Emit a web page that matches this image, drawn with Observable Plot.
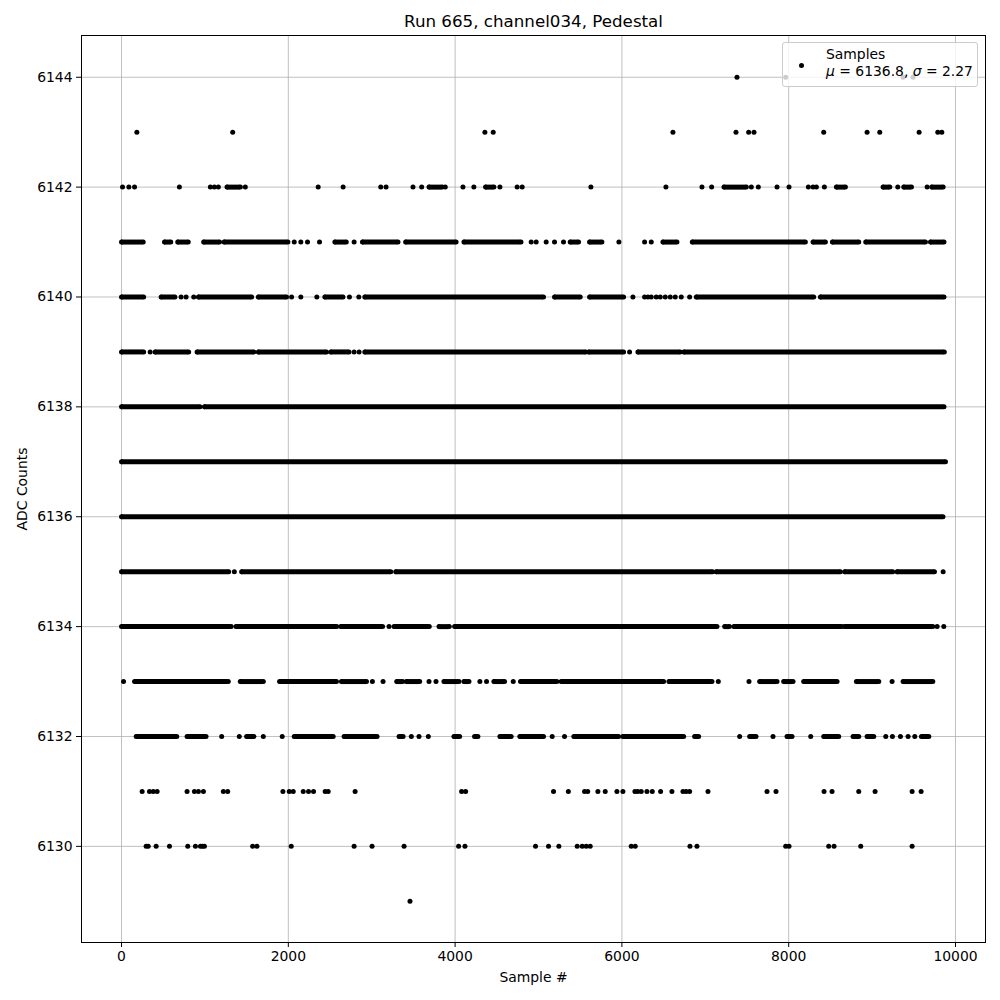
<!DOCTYPE html>
<html>
<head>
<meta charset="utf-8">
<script src="https://cdn.jsdelivr.net/npm/d3@7"></script>
<script src="https://cdn.jsdelivr.net/npm/@observablehq/plot@0.6"></script>
<style>
  body { margin: 0; background: white; }
  #wrap { position: relative; width: 1000px; height: 1000px; font-family: "DejaVu Sans", sans-serif; }
  #legend { position: absolute; left: 782px; top: 42px; width: 196px; height: 45px; box-sizing: border-box;
    background: rgba(255,255,255,0.8); border: 1px solid #cccccc; border-radius: 3px; font-size: 13.9px; color: black; }
  #legend .dot { position: absolute; left: 16px; top: 20px; width: 5px; height: 5px; border-radius: 50%; background: black; }
  #legend .txt { position: absolute; left: 43px; top: 3px; line-height: 17px; white-space: nowrap; }
</style>
</head>
<body>
<div id="wrap"></div>
<script>
const title = "Run 665, channel034, Pedestal";
const xLabel = "Sample #";
const yLabel = "ADC Counts";
const xTicks = [0, 2000, 4000, 6000, 8000, 10000];
const yTicks = [6130, 6132, 6134, 6136, 6138, 6140, 6142, 6144];
const legendLabel = "Samples";
const mu = 6136.8, sigma = 2.27;

// Per ADC level: single samples (numbers) or dense runs of samples [first, last]
const adc6144 = [7380, 7964, 9372, 9492];
const adc6143 = [184, 1333, 4357, 4457, 6612, 7368, 7520, 7584, 8420, 8940, 9092, 9564, 9788, 9836];
const adc6142 = [12, 88, 156, 694, 1065, 1113, 1161, [1265, 1425], 1484, 2358, 2657, 3108, 3172, 3495, 3599, [3687, 3846], 3882, 4094, 4225, [4365, 4465], 4537, 4744, 4804, 5628, 6528, 6960, 7076, [7224, 7492], 7552, 7636, 7860, 8004, 8236, 8292, 8332, 8428, [8572, 8680], [9132, 9212], 9308, [9380, 9472], 9660, [9716, 9852]];
const adc6141 = [[0, 260], [515, 590], [674, 800], [985, 1175], [1230, 1995], 2071, 2150, 2230, 2374, [2558, 2695], 2789, [2889, 3315], [3407, 4012], [4106, 4790], 4912, 4972, 5092, 5192, 5300, [5380, 5480], [5612, 5760], 5964, 6272, 6352, [6492, 6660], [6844, 8200], [8292, 8440], [8524, 8840], [8924, 9640], [9700, 9862]];
const adc6140 = [[0, 265], [475, 640], 714, 774, 866, [922, 1560], [1640, 1978], 2039, 2150, 2342, [2438, 2655], 2733, 2845, [2917, 5060], [5192, 5500], [5612, 6020], 6132, 6272, 6312, 6352, 6412, 6460, 6520, 6580, 6640, 6712, 6812, [6892, 8300], [8380, 9862]];
const adc6139 = [[0, 265], 343, [403, 805], [906, 1588], [1640, 2458], [2510, 2728], 2789, 2849, [2917, 5568], [5604, 6020], 6092, [6192, 6700], [6744, 9866]];
const adc6138 = [[0, 940], [994, 9862]];
const adc6137 = [[0, 9880]];
const adc6136 = [[0, 9850]];
const adc6135 = [[0, 1285], 1353, [1440, 3228], [3288, 7088], [7132, 8620], [8672, 9248], [9300, 9748], 9852];
const adc6134 = [[0, 1315], [1373, 2580], [2629, 3130], 3208, [3268, 3690], [3807, 3930], [3994, 7140], [7232, 7290], [7344, 8640], [8672, 9728], 9780, 9860];
const adc6133 = [24, [156, 1280], [1424, 1700], [1895, 2577], [2637, 2937], 3008, 3136, [3300, 3370], [3415, 3575], 3687, 3771, [3866, 4046], [4106, 4166], 4297, 4377, [4465, 4593], 4697, [4784, 5220], [5272, 6500], [6564, 7080], 7156, 7524, [7652, 7860], [7940, 8052], [8180, 8580], [8812, 9080], 9240, [9372, 9728]];
const adc6132 = [[176, 662], [786, 1013], 1201, 1412, [1500, 1588], 1700, 1927, [2071, 2538], [2669, 3064], [3328, 3376], 3475, 3567, 3679, [3986, 4054], [4233, 4273], [4537, 4672], [4776, 5060], 5164, 5312, [5424, 5960], [6012, 6740], [6872, 6920], 7412, [7532, 7608], 7812, [7980, 8040], 8264, [8420, 8600], [8772, 8840], [8940, 9020], 9164, 9244, 9340, 9432, 9512, [9592, 9680]];
const adc6131 = [247, 335, 380, 427, 786, 874, 922, 982, 1221, 1273, 1935, 2011, 2059, 2179, 2242, 2302, 2442, 2478, 2801, 4078, 4126, 5180, 5358, 5552, 5590, 5712, 5800, 5940, 6012, 6156, 6190, 6232, 6300, 6364, 6464, 6600, 6732, 6770, 6812, 7032, 7740, 7848, 8424, 8520, 8840, 9036, 9480, 9588];
const adc6130 = [295, 320, 415, 575, 794, 886, 946, 970, 994, 1572, 1624, 2035, 2789, 3004, 3388, 4042, 4118, 4964, 5120, 5244, 5464, 5524, 5572, 5620, 6112, 6160, 6816, 6900, 7964, 8004, 8480, 8544, 8864, 9480];
const adc6129 = [3459];

const levels = [
  [6144, adc6144], [6143, adc6143], [6142, adc6142], [6141, adc6141], [6140, adc6140],
  [6139, adc6139], [6138, adc6138], [6137, adc6137], [6136, adc6136], [6135, adc6135],
  [6134, adc6134], [6133, adc6133], [6132, adc6132], [6131, adc6131], [6130, adc6130], [6129, adc6129]
];

const points = [];
const runs = [];
for (const [adc, list] of levels) {
  for (const v of list) {
    if (Array.isArray(v)) {
      runs.push({adc, start: v[0], end: v[1]});
      points.push({adc, sample: v[0]}, {adc, sample: v[1]});
    } else {
      points.push({adc, sample: v});
    }
  }
}

const fmt = d => String(d);
const chart = Plot.plot({
  width: 1000,
  height: 1000,
  marginTop: 35,
  marginBottom: 58,
  marginLeft: 81,
  marginRight: 15,
  style: {fontFamily: "DejaVu Sans, sans-serif", fontSize: "13.9px", background: "white", color: "black"},
  x: {domain: [-480, 10360], label: null},
  y: {domain: [6128.25, 6144.76], label: null},
  marks: [
    Plot.gridX(xTicks, {stroke: "#b0b0b0", strokeOpacity: 1, strokeWidth: 0.8}),
    Plot.gridY(yTicks, {stroke: "#b0b0b0", strokeOpacity: 1, strokeWidth: 0.8}),
    Plot.ruleY(runs, {y: "adc", x1: "start", x2: "end", stroke: "black", strokeWidth: 5}),
    Plot.dot(points, {x: "sample", y: "adc", r: 2.5, fill: "black"}),
    Plot.axisX(xTicks, {tickSize: 5, tickPadding: 4, tickFormat: fmt, label: null, fontSize: 13.9}),
    Plot.axisY(yTicks, {tickSize: 5, tickPadding: 4, tickFormat: fmt, label: null, fontSize: 13.9}),
    Plot.frame({stroke: "black", strokeWidth: 1}),
    Plot.text([title], {text: d => d, frameAnchor: "top", lineAnchor: "middle", dy: -14, fontSize: 16.7}),
    Plot.text([xLabel], {text: d => d, frameAnchor: "bottom", lineAnchor: "middle", dy: 35, fontSize: 13.9}),
    Plot.text([yLabel], {text: d => d, frameAnchor: "left", textAnchor: "middle", lineAnchor: "middle", dx: -59, rotate: -90, fontSize: 13.9})
  ]
});

const wrap = document.getElementById("wrap");
wrap.appendChild(chart);
const legend = document.createElement("div");
legend.id = "legend";
legend.innerHTML = `<span class="dot"></span><div class="txt">${legendLabel}<br><i>μ</i> = ${mu.toFixed(1)}, <i>σ</i> = ${sigma.toFixed(2)}</div>`;
wrap.appendChild(legend);
</script>
</body>
</html>
